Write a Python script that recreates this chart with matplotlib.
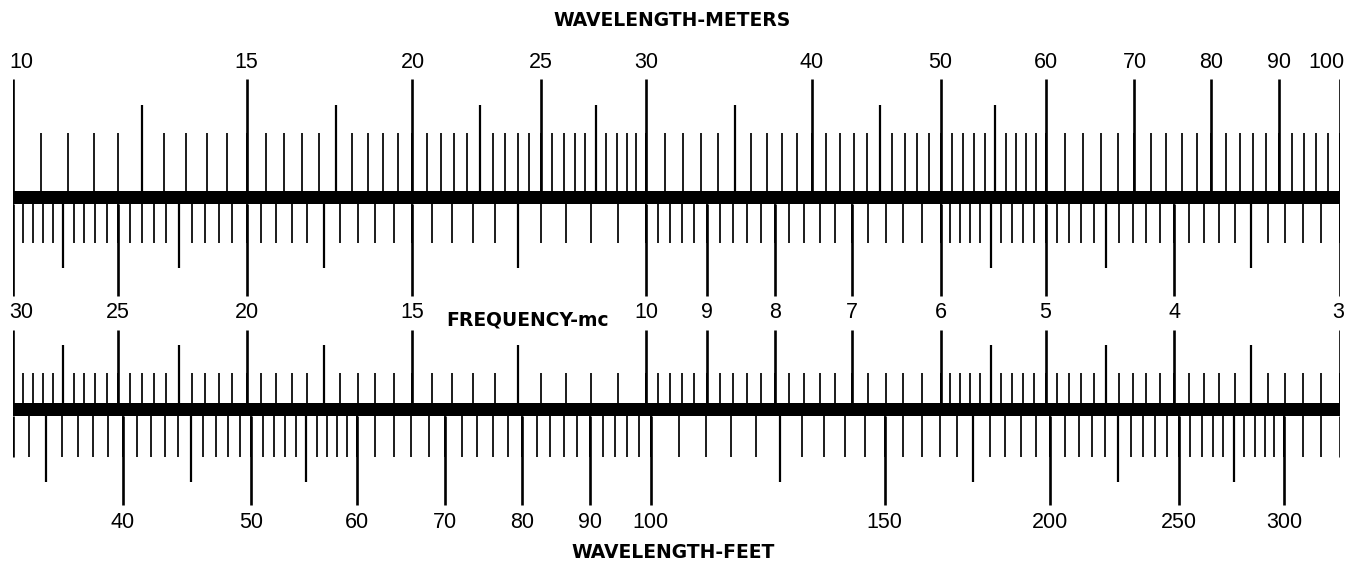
import numpy as np
import matplotlib
matplotlib.use("Agg")
import matplotlib.pyplot as plt
from matplotlib.transforms import offset_copy

# ---------------- data (scale graduations) ----------------
meter_major = [10, 15, 20, 25, 30, 40, 50, 60, 70, 80, 90, 100]
meter_mid = [12.5, 17.5, 22.5, 27.5, 35, 45, 55]
meter_minor_ranges = [(10, 30, 0.5), (30, 60, 1), (60, 100, 2)]

freq_major = [30, 25, 20, 15, 10, 9, 8, 7, 6, 5, 4, 3]
freq_mid = [27.5, 22.5, 17.5, 12.5, 5.5, 4.5, 3.5]
freq_minor_ranges = [(10, 30, 0.5), (6, 10, 0.2), (3, 6, 0.1)]

feet_major = [40, 50, 60, 70, 80, 90, 100, 150, 200, 250, 300]
feet_mid = [35, 45, 55, 125, 175, 225, 275]
feet_minor_ranges = [(34, 60, 1), (60, 100, 2), (100, 300, 5), (300, 321, 10)]

meter_labels = ["10", "15", "20", "25", "30", "40", "50", "60", "70", "80", "90", "100"]
freq_labels = ["30", "25", "20", "15", "10", "9", "8", "7", "6", "5", "4", "3"]
feet_labels = ["40", "50", "60", "70", "80", "90", "100", "150", "200", "250", "300"]

# metres per foot as drawn on the printed scale
FT_TO_M = 0.3025


def m_from_mc(f):
    return 300.0 / np.asarray(f, dtype=float)


def m_from_ft(F):
    return np.asarray(F, dtype=float) * FT_TO_M


def graduations(ranges):
    vals = []
    for a, b, s in ranges:
        vals.extend(np.arange(a, b + 1e-9, s))
    return np.array(vals)


# ---------------- figure ----------------
W, H = 1349, 565
fig = plt.figure(figsize=(W / 100, H / 100), dpi=100)
fig.patch.set_facecolor("white")
ax = fig.add_axes([13 / W, 0, 1327 / W, 1])
ax.set_xscale("log")
ax.set_xlim(10, 100)
ax.set_ylim(H, 0)
ax.axis("off")

K = "black"
LW_MAJ, LW_MID, LW_MIN = 1.9, 1.6, 1.25


def ticks(xs, y0, y1, lw):
    xs = np.asarray(xs, dtype=float)
    xs = xs[(xs >= 9.999) & (xs <= 100.001)]
    ax.vlines(xs, y0, y1, colors=K, linewidth=lw)


# ---- top strip: meters above, frequency below ----
bar1_top, bar1_bot = 191, 204
ax.fill_between([10, 100], bar1_top, bar1_bot, color=K, linewidth=0)
ticks(graduations(meter_minor_ranges), bar1_top, 133, LW_MIN)
ticks(meter_mid, bar1_top, 105, LW_MID)
ticks(meter_major, bar1_top, 79, LW_MAJ)

ticks(m_from_mc(graduations(freq_minor_ranges)), bar1_bot, 243, LW_MIN)
ticks(m_from_mc(freq_mid), bar1_bot, 268, LW_MID)
ticks(m_from_mc(freq_major), bar1_bot, 296, LW_MAJ)

# ---- bottom strip: frequency above, feet below ----
bar2_top, bar2_bot = 403, 416
ax.fill_between([10, 100], bar2_top, bar2_bot, color=K, linewidth=0)
ticks(m_from_mc(graduations(freq_minor_ranges)), bar2_top, 373, LW_MIN)
ticks(m_from_mc(freq_mid), bar2_top, 345, LW_MID)
ticks(m_from_mc(freq_major), bar2_top, 330, LW_MAJ)

ticks(m_from_ft(graduations(feet_minor_ranges)), bar2_bot, 457, LW_MIN)
ticks([10, 100], bar2_bot, 457, LW_MAJ)  # bar end marks
ticks(m_from_ft(feet_mid), bar2_bot, 482, LW_MID)
ticks(m_from_ft(feet_major), bar2_bot, 505, LW_MAJ)

# ---------------- labels ----------------
NUM_FONT = dict(family=["Liberation Sans", "DejaVu Sans"], fontsize=15.5, color=K)
TITLE_FONT = dict(family=["DejaVu Sans"], fontsize=13.5, fontweight="bold", color=K)


def put_labels(xs, labels, y):
    for x, lab in zip(list(xs), labels):
        ha = "center"
        tr = ax.transData
        if abs(x - 10) < 1e-6:
            ha = "left"
            tr = offset_copy(ax.transData, fig=fig, x=-4, y=0, units="dots")
        elif abs(x - 100) < 1e-6:
            ha = "right"
            tr = offset_copy(ax.transData, fig=fig, x=4, y=0, units="dots")
        ax.text(x, y, lab, ha=ha, va="center", transform=tr, **NUM_FONT)


put_labels(meter_major, meter_labels, 62)
put_labels(m_from_mc(freq_major), freq_labels, 312)
put_labels(m_from_ft(feet_major), feet_labels, 523)

fig.text(672 / W, 1 - 20 / H, "WAVELENGTH-METERS", ha="center", va="center", **TITLE_FONT)
fig.text(528 / W, 1 - 320 / H, "FREQUENCY-mc", ha="center", va="center", **TITLE_FONT)
fig.text(673 / W, 1 - 553 / H, "WAVELENGTH-FEET", ha="center", va="center", **TITLE_FONT)

fig.savefig("out.png", dpi=100, facecolor="white")
